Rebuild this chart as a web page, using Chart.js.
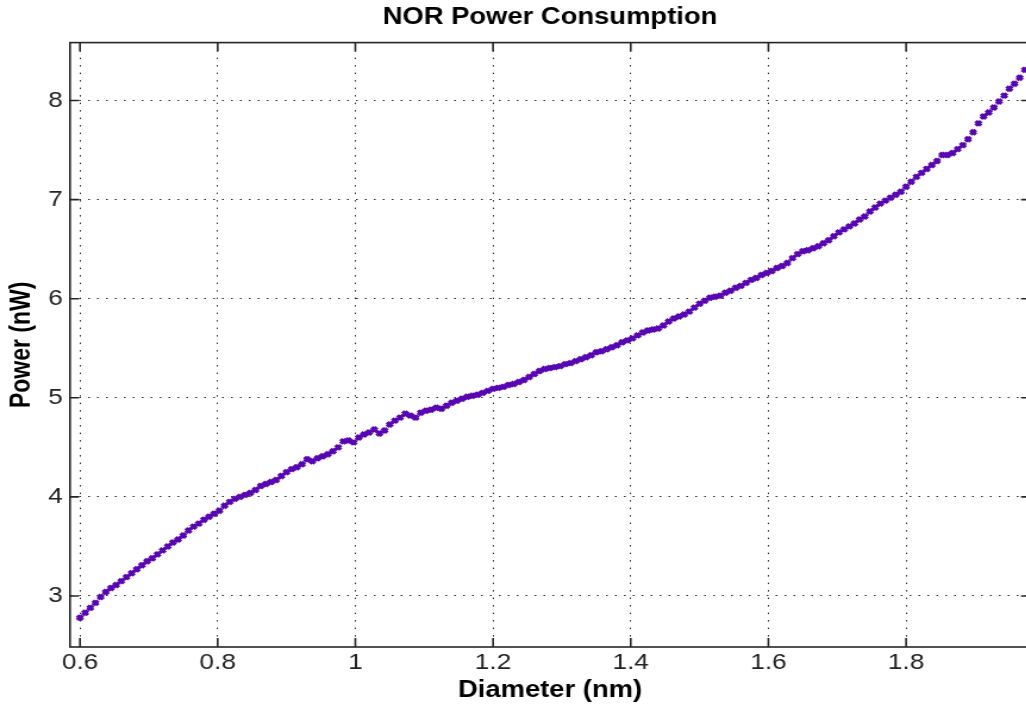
<!DOCTYPE html>
<html>
<head>
<meta charset="utf-8">
<title>NOR Power Consumption</title>
<script src="https://cdn.jsdelivr.net/npm/chart.js@4.4.0/dist/chart.umd.min.js"></script>
<style>
  html, body { margin: 0; padding: 0; background: #fff; overflow: hidden; }
  #wrap { width: 1026px; height: 709px; overflow: hidden; }
</style>
</head>
<body>
<div id="wrap">
  <!-- backing store is narrower than the box: the original figure is stretched sideways -->
  <canvas id="chart" width="882" height="709" style="display:block;width:1050px;height:709px"></canvas>
</div>
<script>
// data
var diameters = [
  0.6, 0.6075, 0.615, 0.6225, 0.63, 0.6375, 0.645, 0.6525, 0.66, 0.6675,
  0.675, 0.6825, 0.69, 0.6975, 0.705, 0.7125, 0.72, 0.7275, 0.735, 0.7425,
  0.75, 0.7575, 0.765, 0.7725, 0.78, 0.7875, 0.795, 0.8025, 0.81, 0.8175,
  0.825, 0.8325, 0.84, 0.8475, 0.855, 0.8625, 0.87, 0.8775, 0.885, 0.8925,
  0.9, 0.9075, 0.915, 0.9225, 0.93, 0.9375, 0.945, 0.9525, 0.96, 0.9675,
  0.975, 0.9825, 0.99, 0.9975, 1.005, 1.0125, 1.02, 1.0275, 1.035, 1.0425,
  1.05, 1.0575, 1.065, 1.0725, 1.08, 1.0875, 1.095, 1.1025, 1.11, 1.1175,
  1.125, 1.1325, 1.14, 1.1475, 1.155, 1.1625, 1.17, 1.1775, 1.185, 1.1925,
  1.2, 1.2075, 1.215, 1.2225, 1.23, 1.2375, 1.245, 1.2525, 1.26, 1.2675,
  1.275, 1.2825, 1.29, 1.2975, 1.305, 1.3125, 1.32, 1.3275, 1.335, 1.3425,
  1.35, 1.3575, 1.365, 1.3725, 1.38, 1.3875, 1.395, 1.4025, 1.41, 1.4175,
  1.425, 1.4325, 1.44, 1.4475, 1.455, 1.4625, 1.47, 1.4775, 1.485, 1.4925,
  1.5, 1.5075, 1.515, 1.5225, 1.53, 1.5375, 1.545, 1.5525, 1.56, 1.5675,
  1.575, 1.5825, 1.59, 1.5975, 1.605, 1.6125, 1.62, 1.6275, 1.635, 1.6425,
  1.65, 1.6575, 1.665, 1.6725, 1.68, 1.6875, 1.695, 1.7025, 1.71, 1.7175,
  1.725, 1.7325, 1.74, 1.7475, 1.755, 1.7625, 1.77, 1.7775, 1.785, 1.7925,
  1.8, 1.8075, 1.815, 1.8225, 1.83, 1.8375, 1.845, 1.8525, 1.86, 1.8675,
  1.875, 1.8825, 1.89, 1.8975, 1.905, 1.9125, 1.92, 1.9275, 1.935, 1.9425,
  1.95, 1.9575, 1.965, 1.9725, 1.98
];
var power = [
  2.78, 2.83, 2.88, 2.93, 2.99, 3.04, 3.08, 3.11, 3.15, 3.19,
  3.23, 3.27, 3.31, 3.35, 3.38, 3.42, 3.46, 3.50, 3.54, 3.57,
  3.61, 3.66, 3.70, 3.73, 3.77, 3.80, 3.83, 3.86, 3.91, 3.95,
  3.98, 4.00, 4.02, 4.04, 4.07, 4.11, 4.13, 4.15, 4.17, 4.21,
  4.25, 4.28, 4.30, 4.33, 4.38, 4.36, 4.39, 4.41, 4.43, 4.46,
  4.50, 4.56, 4.57, 4.55, 4.60, 4.63, 4.65, 4.68, 4.64, 4.67,
  4.73, 4.77, 4.80, 4.84, 4.82, 4.80, 4.85, 4.87, 4.88, 4.90,
  4.89, 4.92, 4.95, 4.97, 4.99, 5.01, 5.02, 5.03, 5.05, 5.07,
  5.09, 5.10, 5.11, 5.13, 5.14, 5.16, 5.18, 5.21, 5.24, 5.27,
  5.29, 5.30, 5.31, 5.32, 5.34, 5.35, 5.37, 5.39, 5.41, 5.43,
  5.46, 5.47, 5.49, 5.51, 5.53, 5.56, 5.58, 5.60, 5.63, 5.66,
  5.68, 5.69, 5.70, 5.73, 5.77, 5.80, 5.82, 5.84, 5.87, 5.91,
  5.95, 5.98, 6.01, 6.02, 6.03, 6.06, 6.08, 6.11, 6.13, 6.16,
  6.19, 6.21, 6.24, 6.26, 6.28, 6.31, 6.33, 6.36, 6.41, 6.45,
  6.48, 6.49, 6.51, 6.53, 6.56, 6.59, 6.63, 6.67, 6.70, 6.73,
  6.76, 6.80, 6.83, 6.88, 6.92, 6.96, 6.99, 7.02, 7.05, 7.08,
  7.13, 7.18, 7.23, 7.27, 7.31, 7.35, 7.39, 7.45, 7.45, 7.47,
  7.51, 7.55, 7.61, 7.68, 7.77, 7.84, 7.88, 7.93, 7.99, 8.05,
  8.12, 8.17, 8.23, 8.31, 8.36
];
var xTicks = [0.6, 0.8, 1.0, 1.2, 1.4, 1.6, 1.8];
var xTickLabels = ["0.6", "0.8", "1", "1.2", "1.4", "1.6", "1.8"];
var yTicks = [3, 4, 5, 6, 7, 8];
var yTickLabels = ["3", "4", "5", "6", "7", "8"];

var FONT = "'Liberation Sans', Arial, Helvetica, sans-serif";
var SX = 1050 / 882; // sideways stretch of the canvas box

var points = [];
for (var i = 0; i < diameters.length; i++) {
  points.push({ x: diameters[i], y: power[i] });
}

// axes box with inward tick marks, MATLAB style
var boxPlugin = {
  id: "box",
  beforeDatasetsDraw: function(chart) {
    var ctx = chart.ctx, a = chart.chartArea;
    var xs = chart.scales.x, ys = chart.scales.y;
    ctx.save();
    ctx.strokeStyle = "#262626";
    ctx.lineWidth = 1.6;
    ctx.setLineDash([]);
    ctx.strokeRect(a.left, a.top, a.right - a.left, a.bottom - a.top);
    ctx.beginPath();
    xs.ticks.forEach(function(t) {
      var px = xs.getPixelForValue(t.value);
      ctx.moveTo(px, a.bottom); ctx.lineTo(px, a.bottom - 9);
      ctx.moveTo(px, a.top); ctx.lineTo(px, a.top + 9);
    });
    ys.ticks.forEach(function(t) {
      var py = ys.getPixelForValue(t.value);
      ctx.moveTo(a.left, py); ctx.lineTo(a.left + 9 / SX, py);
      ctx.moveTo(a.right, py); ctx.lineTo(a.right - 9 / SX, py);
    });
    ctx.stroke();
    ctx.restore();
  }
};

new Chart(document.getElementById("chart"), {
  type: "scatter",
  data: {
    datasets: [{
      label: "Power",
      data: points,
      showLine: false,
      pointStyle: "crossRot",
      pointRadius: 3.2,
      pointHoverRadius: 3.2,
      pointBorderWidth: 3.4,
      borderColor: "#5806b4",
      backgroundColor: "#5806b4",
      clip: false
    }]
  },
  options: {
    responsive: false,
    animation: false,
    devicePixelRatio: 1,
    layout: { padding: { left: 0, right: 16.8, top: 0, bottom: 0 } },
    plugins: {
      legend: { display: false },
      tooltip: { enabled: false },
      title: {
        display: true,
        text: "NOR Power Consumption",
        fullSize: false,
        color: "#000",
        font: { family: FONT, size: 23, weight: "bold" },
        padding: { top: 4, bottom: 11 }
      }
    },
    scales: {
      x: {
        type: "linear",
        min: 0.5855,
        max: 1.98,
        afterBuildTicks: function(s) { s.ticks = xTicks.map(function(v) { return { value: v }; }); },
        afterFit: function(s) { s.height = 62; },
        grid: { color: "#2a2a2a", lineWidth: 1, drawTicks: false },
        border: { display: false, dash: [1.5, 6] },
        ticks: {
          padding: 3,
          color: "#222",
          font: { family: FONT, size: 22 },
          maxRotation: 0,
          autoSkip: false,
          callback: function(v) { return xTickLabels[xTicks.indexOf(v)]; }
        },
        title: {
          display: true,
          text: "Diameter (nm)",
          color: "#000",
          font: { family: FONT, size: 23, weight: "bold" },
          padding: { top: 5, bottom: 5 }
        }
      },
      y: {
        type: "linear",
        min: 2.485,
        max: 8.585,
        afterBuildTicks: function(s) { s.ticks = yTicks.map(function(v) { return { value: v }; }); },
        afterFit: function(s) { s.width = 70 / SX; },
        grid: { color: "#2a2a2a", lineWidth: 1, drawTicks: false },
        border: { display: false, dash: [1.5, 6] },
        ticks: {
          padding: 6,
          color: "#222",
          font: { family: FONT, size: 22 },
          autoSkip: false,
          callback: function(v) { return yTickLabels[yTicks.indexOf(v)]; }
        },
        title: {
          display: true,
          text: "Power (nW)",
          color: "#000",
          font: { family: FONT, size: 23, weight: "bold" },
          padding: { top: 5, bottom: 5 }
        }
      }
    }
  },
  plugins: [boxPlugin]
});
</script>
</body>
</html>
